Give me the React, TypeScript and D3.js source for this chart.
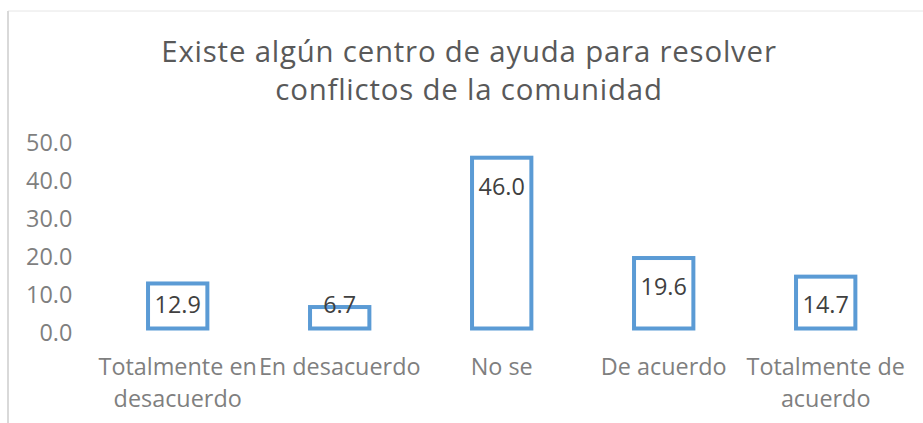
import React from "react";
import * as d3 from "d3";

const titleLines = ["Existe algún centro de ayuda para resolver", "conflictos de la comunidad"];
const categories = ["Totalmente en desacuerdo", "En desacuerdo", "No se", "De acuerdo", "Totalmente de acuerdo"];
const categoryLines = [["Totalmente en", "desacuerdo"], ["En desacuerdo"], ["No se"], ["De acuerdo"], ["Totalmente de", "acuerdo"]];
const values = [12.9, 6.7, 46.0, 19.6, 14.7];
const yTicks = [0, 10, 20, 30, 40, 50];

const W = 923;
const H = 423;
const FONT = "'Open Sans', sans-serif";

export default function App() {
  const x = d3.scaleBand<string>().domain(categories).range([96.7, 906.7]).paddingInner(0.609).paddingOuter(0.3045);
  const y = d3.scaleLinear().domain([0, 50]).range([330.5, 140.5]);
  const bw = x.bandwidth();
  const sw = 4;
  return (
    <svg width={W} height={H} style={{ position: "absolute", left: 0, top: 0, background: "#fff" }}>
      <line x1={8} y1={11} x2={W} y2={11} stroke="#E6E6E6" strokeWidth={1} />
      <line x1={8} y1={11} x2={8} y2={H} stroke="#D9D9D9" strokeWidth={2} />
      {titleLines.map((t, i) => (
        <text key={t} x={469} y={61.7 + i * 38.3} textAnchor="middle" fontFamily={FONT} fontSize={29.4} fill="#595959" letterSpacing={0.8}>
          {t}
        </text>
      ))}
      {yTicks.map((t) => (
        <text key={t} x={72.3} y={y(t) + 2.5 + 8.3} textAnchor="end" fontFamily={FONT} fontSize={23.4} fill="#7F7F7F">
          {d3.format(".1f")(t)}
        </text>
      ))}
      {categories.map((c, i) => {
        const v = values[i];
        const x0 = x(c)!;
        const top = y(v);
        const bottom = y(0);
        const labelCenter = Math.min(top + 31, bottom - 26);
        return (
          <g key={c}>
            <rect x={x0 + sw / 2} y={top + sw / 2} width={bw - sw} height={bottom - top - sw} fill="#fff" stroke="#5B9BD5" strokeWidth={sw} />
            <text x={x0 + bw / 2} y={labelCenter + 8.3} textAnchor="middle" fontFamily={FONT} fontSize={23.4} fill="#404040">
              {d3.format(".1f")(v)}
            </text>
            {categoryLines[i].map((ln, j) => (
              <text key={ln} x={x0 + bw / 2} y={375 + j * 32.2} textAnchor="middle" fontFamily={FONT} fontSize={23.4} fill="#7F7F7F">
                {ln}
              </text>
            ))}
          </g>
        );
      })}
    </svg>
  );
}
